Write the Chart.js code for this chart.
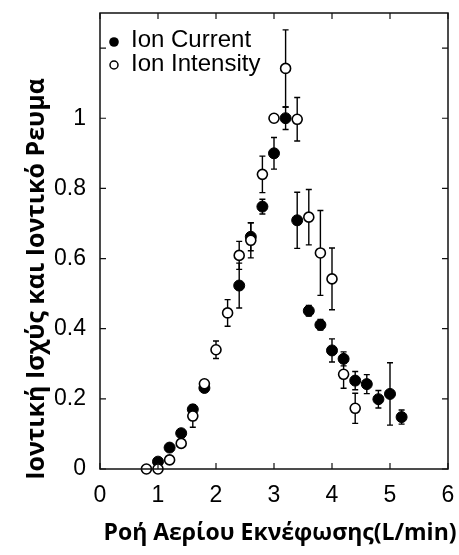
<!DOCTYPE html>
<html>
<head>
<meta charset="utf-8">
<script src="https://cdn.jsdelivr.net/npm/chart.js@4"></script>
<style>
html,body{margin:0;padding:0;background:#fff;}
#c{display:block;}
</style>
</head>
<body>
<canvas id="c" width="459" height="555"></canvas>
<script>
// ---- data ----
const ionCurrentX   = [1.0, 1.2, 1.4, 1.6, 1.8, 2.4, 2.6, 2.8, 3.0, 3.2, 3.4, 3.6, 3.8, 4.0, 4.2, 4.4, 4.6, 4.8, 5.0, 5.2];
const ionCurrentY   = [0.021, 0.061, 0.102, 0.17, 0.231, 0.523, 0.662, 0.748, 0.9, 1.0, 0.709, 0.451, 0.411, 0.338, 0.314, 0.252, 0.242, 0.199, 0.214, 0.148];
const ionCurrentErr = [0, 0, 0.01, 0.01, 0.01, 0.064, 0.04, 0.021, 0.045, 0.032, 0.08, 0.015, 0.015, 0.033, 0.02, 0.026, 0.027, 0.025, 0.089, 0.02];

const ionIntensityX   = [0.8, 1.0, 1.2, 1.4, 1.6, 1.8, 2.0, 2.2, 2.4, 2.6, 2.8, 3.0, 3.2, 3.4, 3.6, 3.8, 4.0, 4.2, 4.4];
const ionIntensityY   = [0.0, 0.0, 0.026, 0.073, 0.151, 0.243, 0.34, 0.445, 0.609, 0.652, 0.84, 1.0, 1.142, 0.997, 0.718, 0.616, 0.542, 0.27, 0.173];
const ionIntensityErr = [0, 0, 0, 0, 0.032, 0.01, 0.025, 0.038, 0.04, 0.05, 0.052, 0, 0.11, 0.062, 0.079, 0.121, 0.088, 0.04, 0.043];

const seriesNames = ['Ion Current', 'Ion Intensity'];
const xTickValues = [0, 1, 2, 3, 4, 5, 6];
const yTickValues = [0, 0.2, 0.4, 0.6, 0.8, 1.0, 1.2];
const yTickLabels = ['0', '0.2', '0.4', '0.6', '0.8', '1', ''];
const xTitle = 'Ροή Αερίου Εκνέφωσης(L/min)';
const yTitle = 'Ιοντική Ισχύς και Ιοντικό Ρευμα';

const toPoints = (xs, ys) => xs.map((x, i) => ({x: x, y: ys[i]}));

const errorBars = {
  id: 'errorBars',
  beforeDatasetsDraw(chart) {
    const ctx = chart.ctx;
    const xs = chart.scales.x, ys = chart.scales.y;
    ctx.save();
    ctx.strokeStyle = '#000';
    ctx.lineWidth = 1.4;
    chart.data.datasets.forEach(ds => {
      ds.data.forEach((p, i) => {
        const e = ds.errors[i];
        if (!e) return;
        const px = xs.getPixelForValue(p.x);
        const t = ys.getPixelForValue(p.y + e);
        const b = ys.getPixelForValue(p.y - e);
        ctx.beginPath();
        ctx.moveTo(px, t); ctx.lineTo(px, b);
        ctx.moveTo(px - 3, t); ctx.lineTo(px + 3, t);
        ctx.moveTo(px - 3, b); ctx.lineTo(px + 3, b);
        ctx.stroke();
      });
    });
    ctx.restore();
  }
};

const frameAndText = {
  id: 'frameAndText',
  afterDraw(chart) {
    const ctx = chart.ctx;
    const a = chart.chartArea;
    const xs = chart.scales.x, ys = chart.scales.y;
    ctx.save();
    ctx.strokeStyle = '#111';
    ctx.lineWidth = 1.5;
    ctx.strokeRect(a.left, a.top, a.right - a.left, a.bottom - a.top);
    const tl = 6;
    ctx.lineWidth = 1.2;
    ctx.beginPath();
    xTickValues.forEach(v => {
      const px = xs.getPixelForValue(v);
      ctx.moveTo(px, a.bottom); ctx.lineTo(px, a.bottom - tl);
      ctx.moveTo(px, a.top); ctx.lineTo(px, a.top + tl);
    });
    yTickValues.forEach(v => {
      const py = ys.getPixelForValue(v);
      ctx.moveTo(a.left, py); ctx.lineTo(a.left + tl, py);
      ctx.moveTo(a.right, py); ctx.lineTo(a.right - tl, py);
    });
    ctx.stroke();
    ctx.restore();

    // legend inside the plot
    ctx.save();
    ctx.fillStyle = '#000';
    ctx.strokeStyle = '#000';
    ctx.font = '24px "Liberation Sans", Arial, sans-serif';
    ctx.textBaseline = 'middle';
    ctx.textAlign = 'left';
    ctx.beginPath();
    ctx.arc(114, 42, 4.8, 0, Math.PI * 2);
    ctx.fill();
    ctx.fillText(seriesNames[0], 131, 40);
    ctx.beginPath();
    ctx.arc(114, 65, 4, 0, Math.PI * 2);
    ctx.fillStyle = '#fff';
    ctx.fill();
    ctx.lineWidth = 1.5;
    ctx.stroke();
    ctx.fillStyle = '#000';
    ctx.fillText(seriesNames[1], 131, 64);

    // axis titles
    ctx.font = 'bold 23px "Open Sans", "Noto Sans", sans-serif';
    ctx.textAlign = 'center';
    ctx.fillText(xTitle, 280, 533);
    ctx.translate(37, 279);
    ctx.rotate(-Math.PI / 2);
    ctx.font = 'bold 25px "Open Sans", "Noto Sans", sans-serif';
    ctx.fillText(yTitle, 0, 0);
    ctx.restore();
  }
};

new Chart(document.getElementById('c'), {
  type: 'scatter',
  data: {
    datasets: [
      {
        label: seriesNames[0],
        data: toPoints(ionCurrentX, ionCurrentY),
        errors: ionCurrentErr,
        pointRadius: 5.5,
        pointBackgroundColor: '#000',
        pointBorderColor: '#000',
        pointBorderWidth: 1,
        clip: false,
        order: 2
      },
      {
        label: seriesNames[1],
        data: toPoints(ionIntensityX, ionIntensityY),
        errors: ionIntensityErr,
        pointRadius: 5,
        pointBackgroundColor: '#fff',
        pointBorderColor: '#000',
        pointBorderWidth: 1.6,
        clip: false,
        order: 1
      }
    ]
  },
  options: {
    responsive: false,
    animation: false,
    events: [],
    layout: {padding: {left: 0, right: 11, top: 13, bottom: 0}},
    plugins: {legend: {display: false}, tooltip: {enabled: false}},
    scales: {
      x: {
        type: 'linear',
        min: 0, max: 6,
        afterFit: s => { s.height = 86; s.paddingLeft = 0; s.paddingRight = 0; },
        grid: {display: false, drawTicks: false},
        border: {display: false},
        ticks: {
          stepSize: 1,
          padding: 13,
          color: '#000',
          font: {family: '"Liberation Sans", Arial, sans-serif', size: 23},
          callback: v => String(v)
        }
      },
      y: {
        type: 'linear',
        min: 0, max: 1.3,
        afterFit: s => { s.width = 100; s.paddingTop = 0; s.paddingBottom = 0; },
        grid: {display: false, drawTicks: false},
        border: {display: false},
        ticks: {
          stepSize: 0.2,
          includeBounds: false,
          padding: 14,
          color: '#000',
          font: {family: '"Liberation Sans", Arial, sans-serif', size: 23},
          callback: (v) => {
            const i = yTickValues.findIndex(t => Math.abs(t - v) < 1e-6);
            return i >= 0 ? yTickLabels[i] : '';
          }
        }
      }
    }
  },
  plugins: [errorBars, frameAndText]
});
</script>
</body>
</html>
